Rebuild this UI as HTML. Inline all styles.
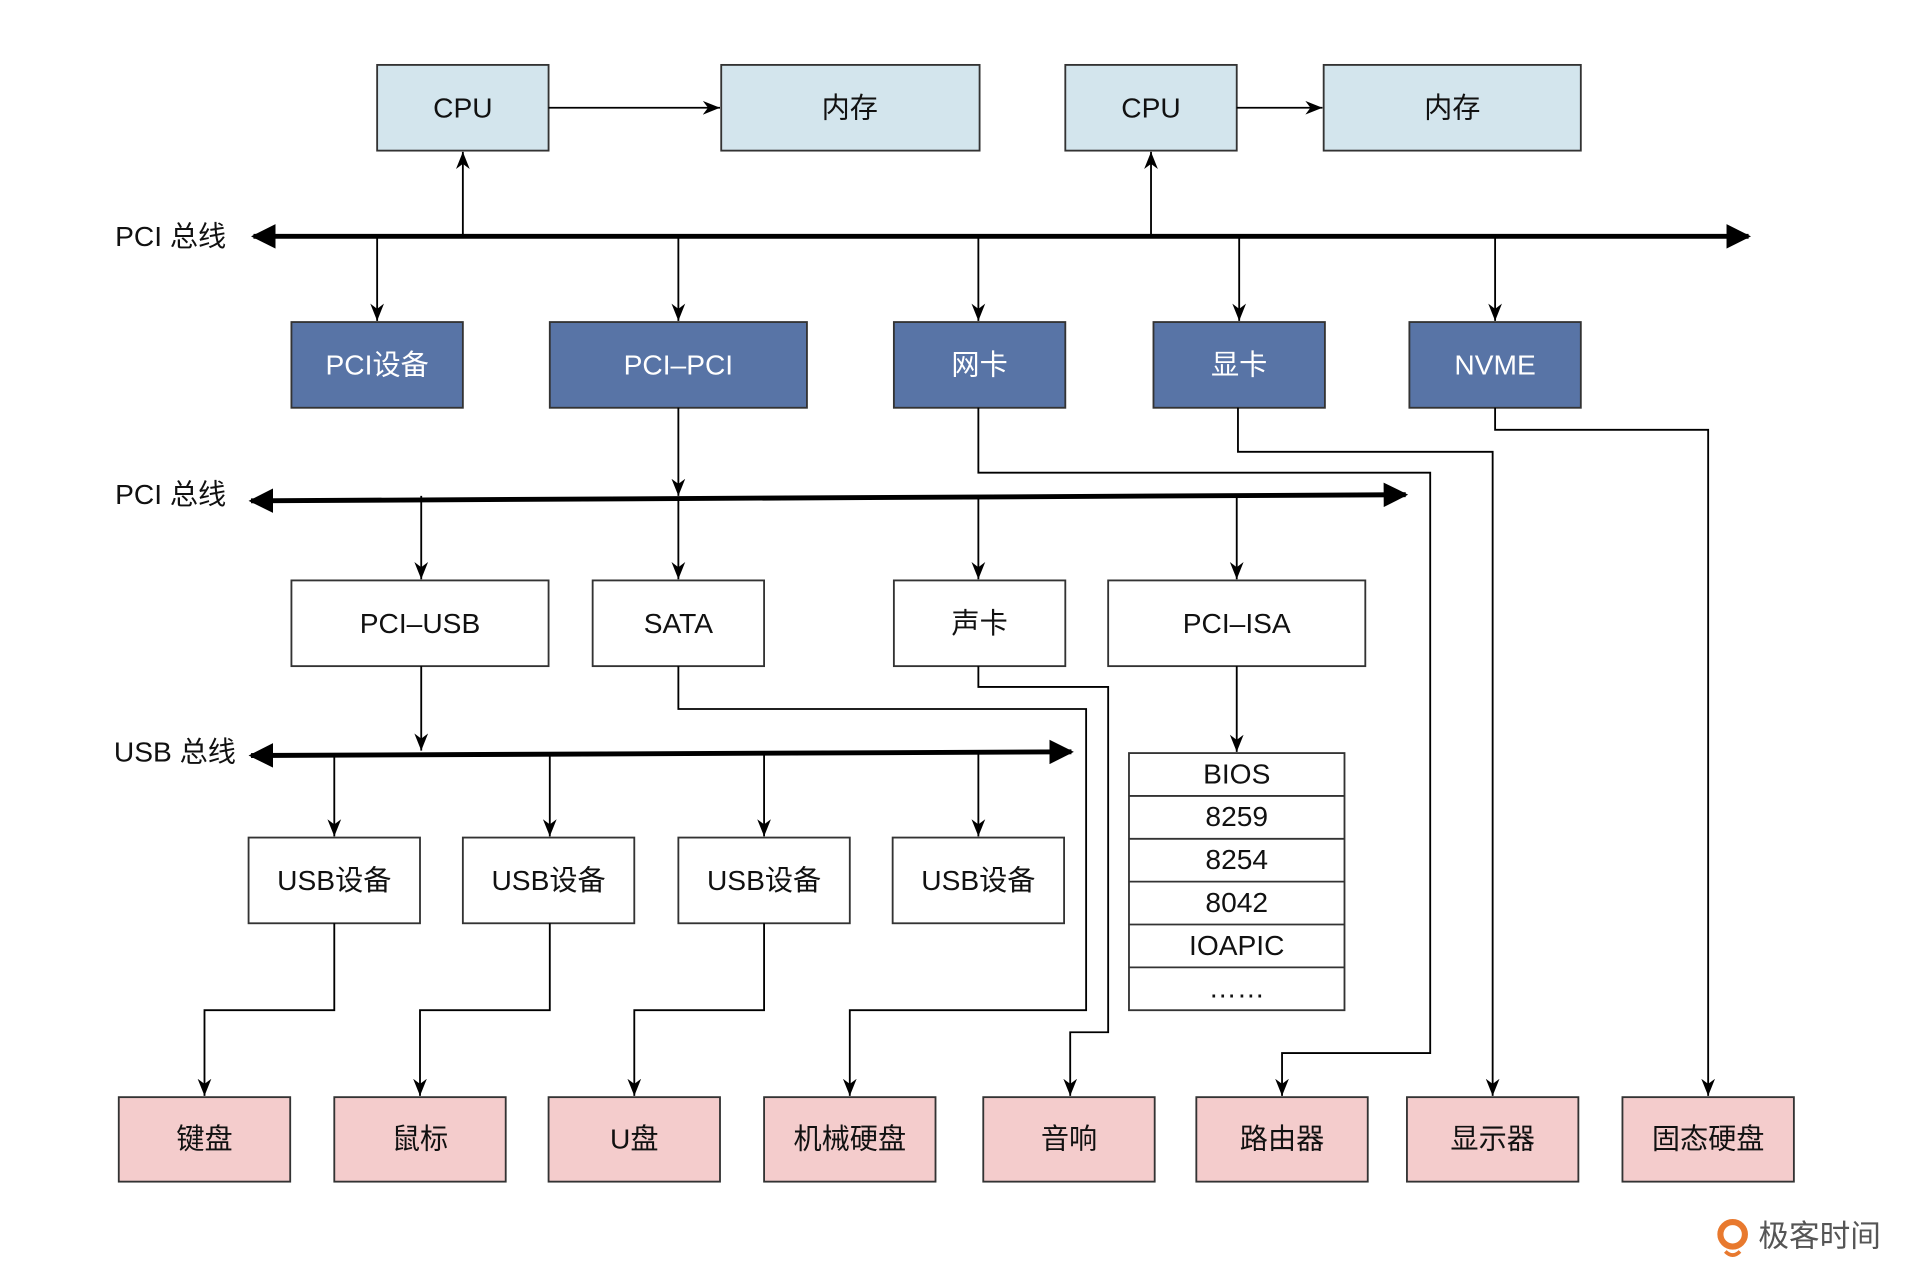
<!DOCTYPE html>
<html><head><meta charset="utf-8"><style>
html,body{margin:0;padding:0;background:#fff;}
svg{display:block;}
text{font-family:"Liberation Sans","Noto Sans CJK SC",sans-serif;font-size:23px;dominant-baseline:central;text-anchor:middle;fill:#111;}
.w{fill:#fff;}
.lb{text-anchor:start;}
</style></head><body>
<svg width="1920" height="1285" viewBox="0 0 1568 1049.4" xmlns="http://www.w3.org/2000/svg">
<defs>
<marker id="a" viewBox="0 0 10 10" refX="10" refY="5" markerWidth="14" markerHeight="14" markerUnits="userSpaceOnUse" orient="auto"><path d="M0,1 L10,5 L0,9 L3,5 z" fill="#000"/></marker>
<marker id="b" viewBox="0 0 10 10" refX="9" refY="5" markerWidth="5" markerHeight="5" orient="auto-start-reverse"><path d="M0,0 L10,5 L0,10 z" fill="#000"/></marker>
</defs>
<rect width="1568" height="1050" fill="#fff"/>
<g stroke="#333" stroke-width="1.5">
<g fill="#d3e5ed">
<rect x="308" y="53" width="140" height="70"/><rect x="589" y="53" width="211" height="70"/>
<rect x="870" y="53" width="140" height="70"/><rect x="1081" y="53" width="210" height="70"/>
</g>
<g fill="#5874a6">
<rect x="238" y="263" width="140" height="70"/><rect x="449" y="263" width="210" height="70"/>
<rect x="730" y="263" width="140" height="70"/><rect x="942" y="263" width="140" height="70"/>
<rect x="1151" y="263" width="140" height="70"/>
</g>
<g fill="#fff">
<rect x="238" y="474" width="210" height="70"/><rect x="484" y="474" width="140" height="70"/>
<rect x="730" y="474" width="140" height="70"/><rect x="905" y="474" width="210" height="70"/>
<rect x="203" y="684" width="140" height="70"/><rect x="378" y="684" width="140" height="70"/>
<rect x="554" y="684" width="140" height="70"/><rect x="729" y="684" width="140" height="70"/>
<rect x="922" y="615" width="176" height="210"/>
</g>
<g fill="#f4cccc">
<rect x="97" y="896" width="140" height="69"/><rect x="273" y="896" width="140" height="69"/>
<rect x="448" y="896" width="140" height="69"/><rect x="624" y="896" width="140" height="69"/>
<rect x="803" y="896" width="140" height="69"/><rect x="977" y="896" width="140" height="69"/>
<rect x="1149" y="896" width="140" height="69"/><rect x="1325" y="896" width="140" height="69"/>
</g>
<path d="M922 650H1098M922 685H1098M922 720H1098M922 755H1098M922 790H1098" fill="none"/>
</g>
<g stroke="#000" stroke-width="4" fill="none" marker-start="url(#b)" marker-end="url(#b)">
<line x1="207" y1="193" x2="1428" y2="193"/>
<line x1="205" y1="409" x2="1148" y2="404"/>
<line x1="205" y1="617" x2="875" y2="614"/>
</g>
<g stroke="#000" stroke-width="1.5" fill="none" marker-end="url(#a)">
<line x1="448" y1="88" x2="588" y2="88"/>
<line x1="1010" y1="88" x2="1080" y2="88"/>
<line x1="378" y1="193" x2="378" y2="124"/>
<line x1="940" y1="193" x2="940" y2="124"/>
<line x1="308" y1="193" x2="308" y2="262"/>
<line x1="554" y1="193" x2="554" y2="262"/>
<line x1="799" y1="193" x2="799" y2="262"/>
<line x1="1012" y1="193" x2="1012" y2="262"/>
<line x1="1221" y1="193" x2="1221" y2="262"/>
<line x1="554" y1="333" x2="554" y2="405"/>
<line x1="344" y1="405" x2="344" y2="473"/>
<line x1="554" y1="407" x2="554" y2="473"/>
<line x1="799" y1="406" x2="799" y2="473"/>
<line x1="1010" y1="405" x2="1010" y2="473"/>
<line x1="344" y1="544" x2="344" y2="613"/>
<line x1="273" y1="616" x2="273" y2="683"/>
<line x1="449" y1="616" x2="449" y2="683"/>
<line x1="624" y1="615" x2="624" y2="683"/>
<line x1="799" y1="615" x2="799" y2="683"/>
<line x1="1010" y1="544" x2="1010" y2="614"/>
<polyline points="273,754 273,825 167,825 167,895"/>
<polyline points="449,754 449,825 343,825 343,895"/>
<polyline points="624,754 624,825 518,825 518,895"/>
<polyline points="554,544 554,579 887,579 887,825 694,825 694,895"/>
<polyline points="799,544 799,561 905,561 905,843 874,843 874,895"/>
<polyline points="799,333 799,386 1168,386 1168,860 1047,860 1047,895"/>
<polyline points="1011,333 1011,369 1219,369 1219,895"/>
<polyline points="1221,333 1221,351 1395,351 1395,895"/>
</g>
<text x="378" y="88">CPU</text><text x="694" y="88">内存</text>
<text x="940" y="88">CPU</text><text x="1186" y="88">内存</text>
<g class="w"><text class="w" x="308" y="298">PCI设备</text><text class="w" x="554" y="298">PCI–PCI</text>
<text class="w" x="800" y="298">网卡</text><text class="w" x="1012" y="298">显卡</text><text class="w" x="1221" y="298">NVME</text></g>
<text x="343" y="509">PCI–USB</text><text x="554" y="509">SATA</text><text x="800" y="509">声卡</text><text x="1010" y="509">PCI–ISA</text>
<text x="273" y="719">USB设备</text><text x="448" y="719">USB设备</text><text x="624" y="719">USB设备</text><text x="799" y="719">USB设备</text>
<text x="1010" y="632">BIOS</text><text x="1010" y="667">8259</text><text x="1010" y="702">8254</text>
<text x="1010" y="737">8042</text><text x="1010" y="772">IOAPIC</text><text x="1010" y="807">……</text>
<text x="167" y="930">键盘</text><text x="343" y="930">鼠标</text><text x="518" y="930">U盘</text><text x="694" y="930">机械硬盘</text>
<text x="873" y="930">音响</text><text x="1047" y="930">路由器</text><text x="1219" y="930">显示器</text><text x="1395" y="930">固态硬盘</text>
<text class="lb" x="94" y="193">PCI 总线</text>
<text class="lb" x="94" y="404">PCI 总线</text>
<text class="lb" x="93" y="614">USB 总线</text>
<circle cx="1415" cy="1008" r="10" fill="none" stroke="#e8792e" stroke-width="5"/>
<path d="M1409 1022 Q1415 1028 1421 1022" stroke="#e8792e" stroke-width="3" fill="none"/>
<text class="lb" x="1436" y="1010" style="fill:#555;font-size:25px">极客时间</text>
</svg>
</body></html>
